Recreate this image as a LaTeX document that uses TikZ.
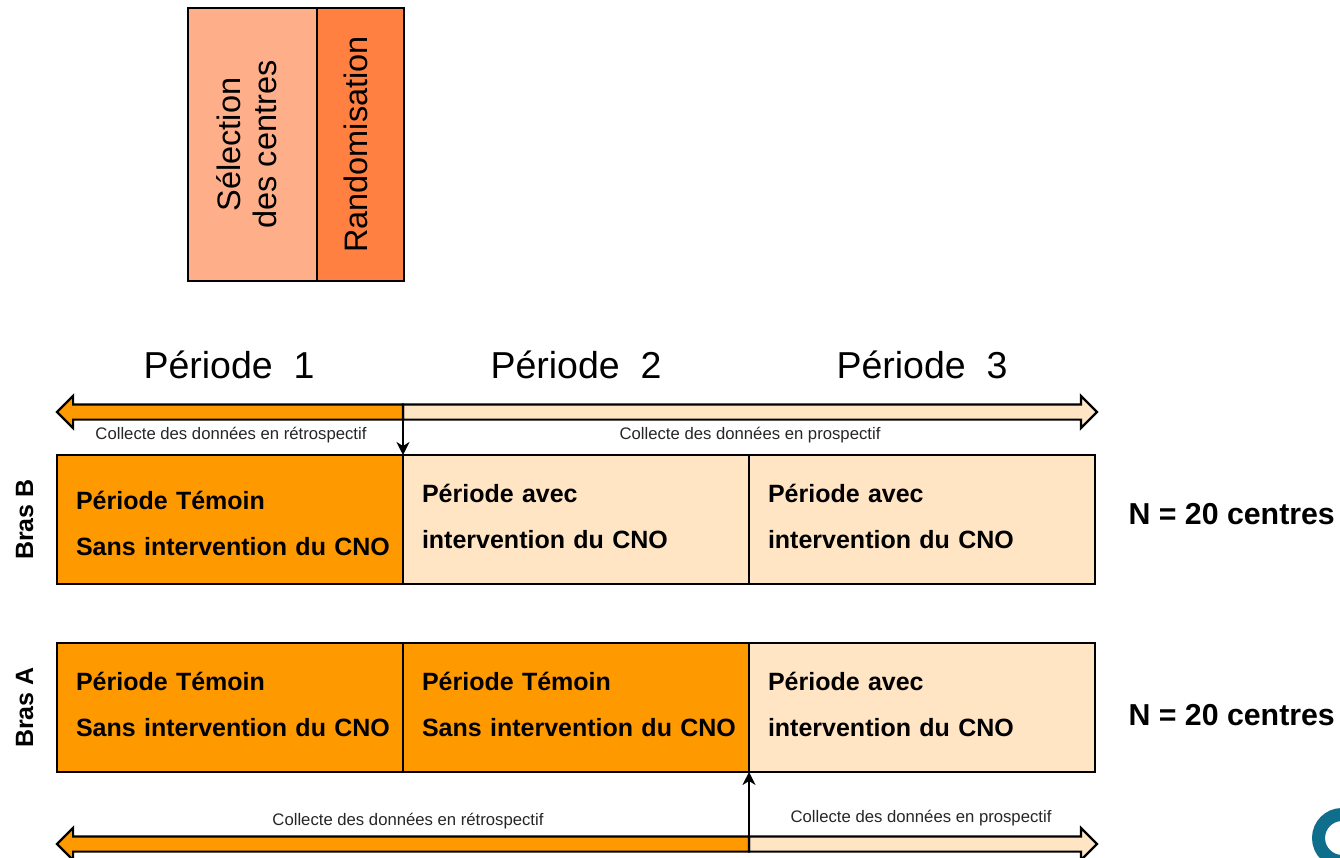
\documentclass[tikz,border=0pt]{standalone}
\usepackage{fontspec}
\setmainfont{Liberation Sans}
\usetikzlibrary{arrows.meta,
                chains,
                positioning,
                shapes.arrows}
\definecolor{temoin}{HTML}{FF9900}
\definecolor{avec}{HTML}{FFE5C4}
\definecolor{selection}{HTML}{FFAE8A}
\definecolor{randomi}{HTML}{FF8040}
\definecolor{logoteal}{HTML}{0F6E8C}
\newcommand{\cellrows}[2]{\hspace*{16pt}#1\\\hspace*{16pt}#2\rule[-6pt]{0pt}{0pt}}

\begin{document}
\begin{tikzpicture}[
            x = 1pt, y = -1pt,
            node distance = 0pt and 0pt,
            start chain = A going right,
            start chain = B going right,
            base/.style = {draw, line width=1.6pt, outer sep=0pt, minimum height=129pt,
                    minimum width=346pt, inner xsep=3pt, text width=340pt, align=left,
                    font=\fontsize{25}{46}\selectfont\bfseries},
            cellB/.style = {base, on chain=B},
            cellA/.style = {base, on chain=A},
            phase/.style = {draw, line width=1.6pt, rotate=90, outer sep=0pt,
                    minimum width=273pt, align=center, font=\fontsize{32.5}{36}\selectfont},
            periode/.style = {font=\fontsize{37.5}{40}\selectfont},
            bras/.style = {rotate=90, font=\fontsize{25}{28}\selectfont\bfseries},
            effectif/.style = {anchor=west, font=\fontsize{30.3}{34}\selectfont\bfseries},
            collecte/.style = {font=\fontsize{16.7}{18}\selectfont, text=black!85},
            bar/.style = {single arrow, draw, line width=2.2pt, inner xsep=0pt, inner ysep=6.5pt,
                    single arrow head extend=8.5pt, single arrow tip angle=90,
                    single arrow head indent=0pt, outer sep=0pt, anchor=tail},
            link/.style = {line width=1.5pt, arrows={-Stealth[length=13pt, width=13pt, inset=4pt]}}]

        \useasboundingbox (0,0) rectangle (1340,858);
        \clip (0,0) rectangle (1340,858);

        % Phases
        \node [phase, fill=selection, minimum height=129pt] (select) at (252.5,144.5)
            {S\'election\\des centres\rule[-12pt]{0pt}{0pt}};
        \node [phase, fill=randomi, minimum height=87pt] (random) at (360.5,144.5)
            {Randomisation\rule[-9pt]{0pt}{0pt}};

        % Bras B
        \node [cellB, fill=temoin] at (230,519.5)
            {\cellrows{\rule{0pt}{32pt}P\'eriode T\'emoin}{Sans intervention du CNO}}; % B-1
        \node [cellB, fill=avec]
            {\cellrows{P\'eriode avec}{intervention du CNO}}; % B-2
        \node [cellB, fill=avec]
            {\cellrows{P\'eriode avec}{intervention du CNO}}; % B-3

        % Bras A
        \node [cellA, fill=temoin] at (230,707.5)
            {\cellrows{P\'eriode T\'emoin}{Sans intervention du CNO}}; % A-1
        \node [cellA, fill=temoin]
            {\cellrows{P\'eriode T\'emoin}{Sans intervention du CNO}}; % A-2
        \node [cellA, fill=avec]
            {\cellrows{P\'eriode avec}{intervention du CNO}}; % A-3

        \node [bras, left=20pt of B-1.west, anchor=south] (brasB) {Bras B};
        \node [bras, left=20pt of A-1.west, anchor=south] (brasA) {Bras A};
        \node [effectif, right=30pt of B-3.east, yshift=5pt, anchor=west] (nB) {N = 20 centres};
        \node [effectif, right=30pt of A-3.east, yshift=-8pt, anchor=west] (nA) {N = 20 centres};

        % Periodes
        \node [periode] (p1) at (229,365) {P\'eriode\ \ 1};
        \node [periode] (p2) at (576,365) {P\'eriode\ \ 2};
        \node [periode] (p3) at (922,365) {P\'eriode\ \ 3};

        % Collecte, haut
        \node [bar, fill=avec, minimum height=694pt] (prosB) at (403,412) {};
        \node [bar, fill=temoin, minimum height=346pt, shape border rotate=180] (retroB) at (403,412) {};
        \node [collecte] at (231,435) {Collecte des donn\'ees en r\'etrospectif};
        \node [collecte] at (750,435) {Collecte des donn\'ees en prospectif};

        % Collecte, bas
        \node [bar, fill=avec, minimum height=348pt] (prosA) at (749,844) {};
        \node [bar, fill=temoin, minimum height=692pt, shape border rotate=180] (retroA) at (749,844) {};
        \node [collecte] at (408,821) {Collecte des donn\'ees en r\'etrospectif};
        \node [collecte] at (921,818) {Collecte des donn\'ees en prospectif};

        %%
        \draw [link] (retroB.tail) -- (B-1.north east);
        \draw [link] (retroA.tail) -- (A-2.south east);

        % Logo
        \draw [logoteal, line width=13pt] (1342,838) circle (23.5);
    \end{tikzpicture}
\end{document}
